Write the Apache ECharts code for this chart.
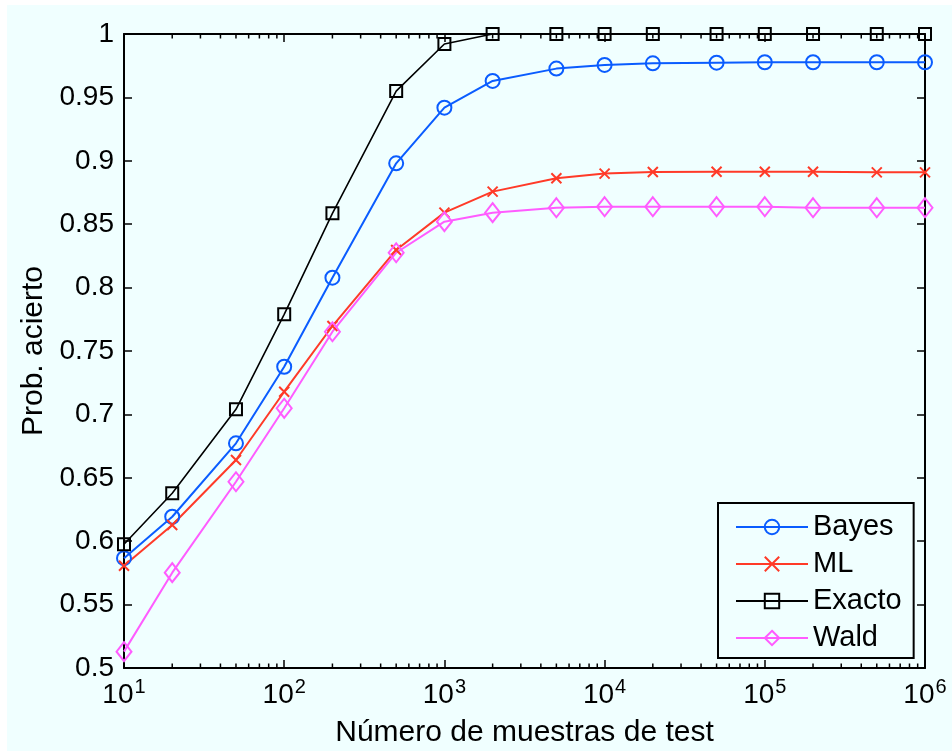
<!DOCTYPE html>
<html>
<head>
<meta charset="utf-8">
<script src="https://cdn.jsdelivr.net/npm/echarts@6/dist/echarts.min.js"></script>
<style>
html,body{margin:0;padding:0;background:#ffffff;}
#c{position:absolute;left:7px;top:5px;width:945px;height:746px;background:#f0ffff;}
</style>
</head>
<body>
<div id="c"></div>
<script>
// ---- data ----
const xValues = [10, 20, 50, 100, 200, 500, 1000, 2000, 5000, 1e4, 2e4, 5e4, 1e5, 2e5, 5e5, 1e6];
const bayes  = [0.5866, 0.6193, 0.6772, 0.7376, 0.8078, 0.8980, 0.9419, 0.9630, 0.9727, 0.9756, 0.9769, 0.9774, 0.9777, 0.9777, 0.9777, 0.9777];
const ml     = [0.5807, 0.6128, 0.6640, 0.7179, 0.7697, 0.8297, 0.8591, 0.8757, 0.8862, 0.8899, 0.8912, 0.8914, 0.8914, 0.8914, 0.8909, 0.8909];
const exacto = [0.5976, 0.6378, 0.7040, 0.7789, 0.8586, 0.9550, 0.9921, 1.0, 1.0, 1.0, 1.0, 1.0, 1.0, 1.0, 1.0, 1.0];
const wald   = [0.5129, 0.5752, 0.6469, 0.7048, 0.7652, 0.8275, 0.8520, 0.8591, 0.8630, 0.8638, 0.8638, 0.8638, 0.8638, 0.8630, 0.8630, 0.8630];
const seriesNames = ['Bayes', 'ML', 'Exacto', 'Wald'];
const yTicks = [0.5, 0.55, 0.6, 0.65, 0.7, 0.75, 0.8, 0.85, 0.9, 0.95, 1];
const xLabel = 'Número de muestras de test';
const yLabel = 'Prob. acierto';

// minor tick positions on log axis (2..9 x 10^k)
const minorTicks = [];
for (let k = 1; k < 6; k++) for (let m = 2; m <= 9; m++) minorTicks.push([m * Math.pow(10, k), 0.5]);

const pair = arr => xValues.map((x, i) => [x, arr[i]]);
const FONT = 'Liberation Sans';

const chart = echarts.init(document.getElementById('c'), null, {renderer: 'canvas'});

function lineSeries(name, data, color, symbol, size, lw) {
  return {
    name: name, type: 'line', data: pair(data),
    symbol: symbol, symbolSize: size,
    showSymbol: true,
    lineStyle: {color: color, width: lw},
    itemStyle: {color: 'none', borderColor: color, borderWidth: 2},
    emphasis: {disabled: true},
    animation: false, z: 3
  };
}

const axisCommon = {
  axisLine: {show: true, onZero: false, lineStyle: {color: '#000', width: 2}},
  splitLine: {show: false}
};

chart.setOption({
  backgroundColor: '#f0ffff',
  animation: false,
  textStyle: {fontFamily: FONT},
  grid: {left: 117, right: 27, top: 29, bottom: 83, containLabel: false, outerBoundsMode: 'none'},
  legend: {
    data: seriesNames,
    orient: 'vertical',
    left: 711, top: 498,
    padding: [8, 12, 4, 17],
    itemWidth: 72, itemHeight: 18, itemGap: 5,
    backgroundColor: '#f0ffff',
    borderColor: '#000', borderWidth: 2,
    textStyle: {fontFamily: FONT, fontSize: 29, color: '#000', lineHeight: 32}
  },
  xAxis: [
    Object.assign({
      type: 'log', logBase: 10, min: 10, max: 1e6, interval: 1,
      position: 'bottom',
      name: xLabel, nameLocation: 'middle', nameGap: 48,
      nameTextStyle: {fontFamily: FONT, fontSize: 30, color: '#000'},
      axisTick: {show: true, inside: true, length: 8, lineStyle: {color: '#000', width: 1.5}},
      axisLabel: {
        margin: 9,
        formatter: v => '{b|10}{s|' + Math.round(Math.log10(v)) + '}',
        rich: {
          b: {fontFamily: FONT, fontSize: 28, color: '#000', verticalAlign: 'bottom', lineHeight: 32},
          s: {fontFamily: FONT, fontSize: 20, color: '#000', verticalAlign: 'top', lineHeight: 32, padding: [0, 0, 16, 1]}
        }
      }
    }, axisCommon),
    Object.assign({
      type: 'log', logBase: 10, min: 10, max: 1e6, interval: 1,
      position: 'top',
      axisTick: {show: true, inside: true, length: 8, lineStyle: {color: '#000', width: 1.5}},
      axisLabel: {show: false}
    }, axisCommon)
  ],
  yAxis: [
    Object.assign({
      type: 'value', min: 0.5, max: 1, interval: 0.05,
      position: 'left',
      name: yLabel, nameLocation: 'middle', nameGap: 72, nameRotate: 90,
      nameTextStyle: {fontFamily: FONT, fontSize: 30, color: '#000'},
      axisTick: {show: true, inside: true, length: 8, lineStyle: {color: '#000', width: 1.5}},
      axisLabel: {
        margin: 10, fontFamily: FONT, fontSize: 28, color: '#000',
        formatter: v => String(+v.toFixed(2))
      }
    }, axisCommon),
    Object.assign({
      type: 'value', min: 0.5, max: 1, interval: 0.05,
      position: 'right',
      axisTick: {show: true, inside: true, length: 8, lineStyle: {color: '#000', width: 1.5}},
      axisLabel: {show: false}
    }, axisCommon)
  ],
  series: [
    {
      name: 'minor', type: 'custom', data: minorTicks, silent: true, z: 1,
      encode: {x: 0, y: 1},
      renderItem: function (params, api) {
        const x = api.coord([api.value(0), 0.5])[0];
        const cs = params.coordSys;
        const yb = cs.y + cs.height, yt = cs.y;
        return {
          type: 'group',
          children: [
            {type: 'line', shape: {x1: x, y1: yb, x2: x, y2: yb - 4.5}, style: {stroke: '#000', lineWidth: 1.5}},
            {type: 'line', shape: {x1: x, y1: yt, x2: x, y2: yt + 4.5}, style: {stroke: '#000', lineWidth: 1.5}}
          ]
        };
      }
    },
    lineSeries('Bayes', bayes, '#0a5cff', 'circle', 14, 2),
    lineSeries('ML', ml, '#ff3a28', 'path://M0,0L10,10M10,0L0,10', 10, 2),
    lineSeries('Exacto', exacto, '#000000', 'rect', 12, 1.6),
    lineSeries('Wald', wald, '#ff5cff', 'diamond', [15, 19], 2)
  ]
});
</script>
</body>
</html>
